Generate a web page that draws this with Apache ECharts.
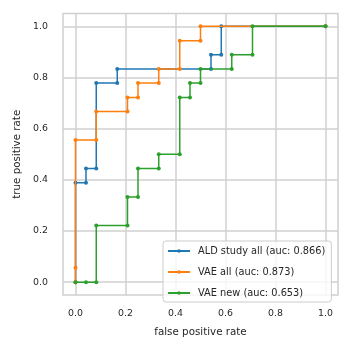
<!DOCTYPE html>
<html>
<head>
<meta charset="utf-8">
<script src="https://cdn.jsdelivr.net/npm/echarts@6/dist/echarts.min.js"></script>
<style>
  html, body { margin: 0; padding: 0; background: #fff; }
  #main { width: 352px; height: 352px; }
</style>
</head>
<body>
<div id="main"></div>
<script>
// ROC curves (fpr / tpr corner points)
var aldFpr = [0, 0, 0.042, 0.042, 0.083, 0.083, 0.167, 0.167, 0.542, 0.542, 0.583, 0.583, 1.0];
var aldTpr = [0, 0.389, 0.389, 0.444, 0.444, 0.778, 0.778, 0.833, 0.833, 0.889, 0.889, 1.0, 1.0];

var vaeAllFpr = [0, 0, 0, 0.083, 0.083, 0.208, 0.208, 0.25, 0.25, 0.333, 0.333, 0.417, 0.417, 0.5, 0.5, 1.0];
var vaeAllTpr = [0, 0.056, 0.556, 0.556, 0.667, 0.667, 0.722, 0.722, 0.778, 0.778, 0.833, 0.833, 0.944, 0.944, 1.0, 1.0];

var vaeNewFpr = [0, 0.042, 0.083, 0.083, 0.208, 0.208, 0.25, 0.25, 0.333, 0.333, 0.417, 0.417, 0.458, 0.458, 0.5, 0.5, 0.625, 0.625, 0.708, 0.708, 1.0];
var vaeNewTpr = [0, 0, 0, 0.222, 0.222, 0.333, 0.333, 0.444, 0.444, 0.5, 0.5, 0.722, 0.722, 0.778, 0.778, 0.833, 0.833, 0.889, 0.889, 1.0, 1.0];

var seriesNames = ['ALD study all (auc: 0.866)', 'VAE all (auc: 0.873)', 'VAE new (auc: 0.653)'];
var tickValues = [0, 0.2, 0.4, 0.6, 0.8, 1.0];

var colors = ['#1f77b4', '#ff7f0e', '#2ca02c'];
var gridColor = '#d0d0d0';
var textColor = '#262626';
var font = 'DejaVu Sans';

function pairs(xs, ys) {
    var out = [];
    for (var i = 0; i < xs.length; i++) out.push([xs[i], ys[i]]);
    return out;
}

// later series drawn fully on top of earlier ones (line + dots), like matplotlib
function rocSeries(name, xs, ys, z) {
    return {
        name: name,
        type: 'line',
        z: z,
        data: pairs(xs, ys),
        symbol: 'circle',
        symbolSize: 4,
        showSymbol: true,
        lineStyle: { width: 1.5 },
        animation: false
    };
}

function axis(name, gap, labelMargin) {
    return {
        type: 'value',
        min: -0.05,
        max: 1.05,
        name: name,
        nameLocation: 'middle',
        nameGap: gap,
        nameTextStyle: { color: textColor, fontFamily: font, fontSize: 10.3 },
        axisLine: { show: false },
        axisTick: { show: false, customValues: tickValues },
        axisLabel: {
            customValues: tickValues,
            color: textColor,
            fontFamily: font,
            fontSize: 9.4,
            margin: labelMargin,
            formatter: function (v) { return v.toFixed(1); }
        },
        splitLine: { show: true, lineStyle: { color: gridColor, width: 1.5 } }
    };
}

var myChart = echarts.init(document.getElementById('main'), null, { renderer: 'canvas' });
var option = {
    color: colors,
    animation: false,
    grid: {
        left: 63, right: 14, top: 13.5, bottom: 57,
        show: true, borderColor: gridColor, borderWidth: 1.5, backgroundColor: '#fff'
    },
    legend: {
        orient: 'vertical',
        left: 163,
        top: 241,
        z: 10,
        data: seriesNames,
        itemWidth: 22,
        itemHeight: 4.5,
        itemGap: 11,
        padding: [5, 6, 4, 4],
        backgroundColor: 'rgba(255,255,255,0.8)',
        borderColor: '#cccccc',
        borderWidth: 1,
        borderRadius: 3,
        textStyle: { color: textColor, fontFamily: font, fontSize: 9.8, padding: [0, 0, 0, 3] }
    },
    xAxis: axis('false positive rate', 32, 14),
    yAxis: axis('true positive rate', 38, 15),
    series: [
        rocSeries(seriesNames[0], aldFpr, aldTpr, 2),
        rocSeries(seriesNames[1], vaeAllFpr, vaeAllTpr, 3),
        rocSeries(seriesNames[2], vaeNewFpr, vaeNewTpr, 4)
    ]
};
myChart.setOption(option);
</script>
</body>
</html>
